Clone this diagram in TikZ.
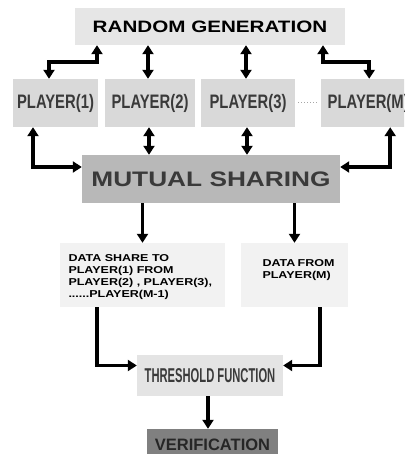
\documentclass[tikz,border=0pt]{standalone}
\usepackage{fontspec}
\usepackage{xcolor}
\usetikzlibrary{arrows.meta}
\setmainfont{Liberation Sans}
\newfontfamily\widefont[FakeStretch=1.25]{Liberation Sans}
\newfontfamily\narrowfont[FakeStretch=0.76]{Liberation Sans}
\newfontfamily\tffont[FakeStretch=0.56]{Liberation Sans}
\definecolor{rgfill}{HTML}{E6E6E6}
\definecolor{plfill}{HTML}{D9D9D9}
\definecolor{msfill}{HTML}{B8B8B8}
\definecolor{dsfill}{HTML}{F2F2F2}
\definecolor{tffill}{HTML}{E4E4E4}
\definecolor{vffill}{HTML}{808080}
\definecolor{darktext}{HTML}{3A3A3A}

\begin{document}
\begin{tikzpicture}[x=1pt,y=-1pt,
  box/.style={inner sep=0pt, align=center},
  arr/.style={line width=3.5pt, -{Triangle[width=11pt,length=9pt]}},
  dbl/.style={line width=3.5pt, {Triangle[width=11pt,length=9pt]}-{Triangle[width=11pt,length=9pt]}}]
\useasboundingbox (0,0) rectangle (404,454);
\clip (0,0) rectangle (404,454);
\node [box, fill=rgfill, minimum width=270pt, minimum height=37pt] (rg) at (210,26.5)
  {\widefont\bfseries\fontsize{16.5}{18}\selectfont RANDOM GENERATION};
\node [box, fill=plfill, minimum width=85pt, minimum height=48pt] (p1) at (55.5,103)
  {\narrowfont\bfseries\fontsize{19.5}{21}\selectfont\color{darktext}PLAYER(1)};
\node [box, fill=plfill, minimum width=90pt, minimum height=48pt] (p2) at (150,103)
  {\narrowfont\bfseries\fontsize{19.5}{21}\selectfont\color{darktext}PLAYER(2)};
\node [box, fill=plfill, minimum width=94pt, minimum height=48pt] (p3) at (248,103)
  {\narrowfont\bfseries\fontsize{19.5}{21}\selectfont\color{darktext}PLAYER(3)};
\node [box, fill=plfill, minimum width=94pt, minimum height=48pt, anchor=west] (pm) at (321,103)
  {\narrowfont\bfseries\fontsize{19.5}{21}\selectfont\color{darktext}PLAYER(M)};
\node [box, fill=msfill, minimum width=258pt, minimum height=48pt] (ms) at (211,179)
  {\widefont\bfseries\fontsize{21}{23}\selectfont\color{darktext}MUTUAL SHARING};
\node [box, fill=dsfill, minimum width=165pt, minimum height=64pt] (ds) at (142.5,275)
  {\begin{minipage}[t][54pt]{148pt}\vspace*{7pt}\widefont\bfseries\fontsize{10}{12}\selectfont
   DATA SHARE TO\\PLAYER(1) FROM\\PLAYER(2) , PLAYER(3),\\......PLAYER(M-1)\end{minipage}};
\node [box, fill=dsfill, minimum width=107pt, minimum height=64pt] (df) at (294.5,275)
  {\begin{minipage}[t][50pt]{80pt}\vspace*{10pt}\widefont\bfseries\fontsize{10}{12}\selectfont
   \hspace*{8pt}DATA FROM\\\hspace*{8pt}PLAYER(M)\end{minipage}};
\node [box, fill=tffill, minimum width=146pt, minimum height=41pt] (tf) at (210,375.5)
  {\tffont\bfseries\fontsize{20}{22}\selectfont\color{darktext}THRESHOLD FUNCTION};
\node [box, fill=vffill, minimum width=131pt, minimum height=36pt] (vf) at (212.5,447)
  {\bfseries\fontsize{16.5}{18}\selectfont\color{black!85}\raisebox{4pt}{VERIFICATION}};
\draw [dbl] ([xshift=-6.5pt]p1.north) |- ([xshift=-113pt,yshift=-17pt]rg.south) -- ([xshift=-113pt]rg.south);
\draw [dbl] ([xshift=-2pt]p2.north) -- ([xshift=-2pt]p2.north |- rg.south);
\draw [dbl] ([xshift=-2pt]p3.north) -- ([xshift=-2pt]p3.north |- rg.south);
\draw [dbl] ([xshift=1pt]pm.north) |- ([xshift=113pt,yshift=-17pt]rg.south) -- ([xshift=113pt]rg.south);
\draw [gray!70, dotted, line width=1pt, shorten <=3pt, shorten >=3pt] (p3.east) -- (pm.west);
\draw [dbl] ([xshift=-1pt]p2.south) -- ([xshift=-1pt]p2.south |- ms.north);
\draw [dbl] ([xshift=-1pt]p3.south) -- ([xshift=-1pt]p3.south |- ms.north);
\draw [dbl] ([xshift=-22.5pt]p1.south) |- ([yshift=12pt]ms.west);
\draw [dbl] ([xshift=22pt]pm.south) |- ([yshift=12pt]ms.east);
\draw [arr] (ms.south -| ds.north) -- (ds.north);
\draw [arr] (ms.south -| df.north) -- (df.north);
\draw [arr] ([xshift=-45.5pt]ds.south) |- ([yshift=10pt]tf.west);
\draw [arr] ([xshift=25.5pt]df.south) |- ([yshift=10pt]tf.east);
\draw [arr] ([xshift=-2pt]tf.south) -- ([xshift=-2pt]tf.south |- vf.north);
\end{tikzpicture}
\end{document}
